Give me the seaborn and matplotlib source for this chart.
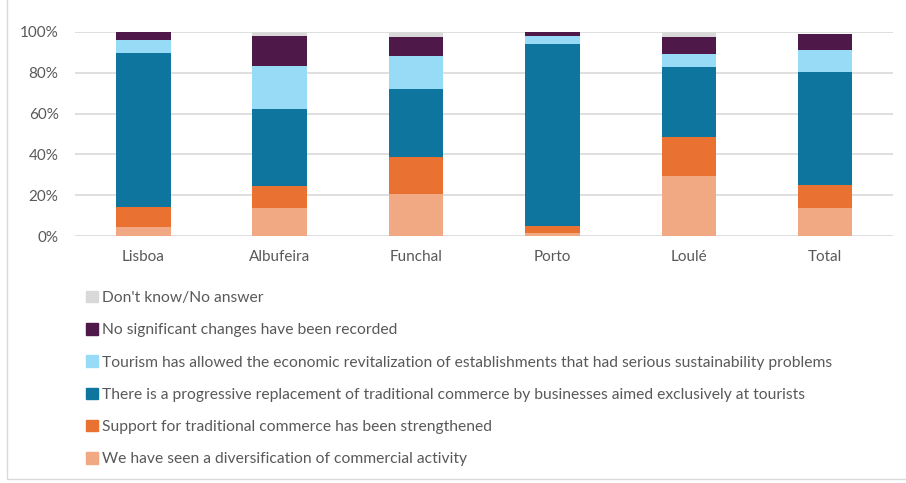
import matplotlib
matplotlib.use("Agg")
import matplotlib.pyplot as plt
import matplotlib.patches as mpatches
import numpy as np
import pandas as pd
import seaborn as sns

categories = ["Lisboa", "Albufeira", "Funchal", "Porto", "Loulé", "Total"]
series_names = [
    "We have seen a diversification of commercial activity",
    "Support for traditional commerce has been strengthened",
    "There is a progressive replacement of traditional commerce by businesses aimed exclusively at tourists",
    "Tourism has allowed the economic revitalization of establishments that had serious sustainability problems",
    "No significant changes have been recorded",
    "Don't know/No answer",
]
diversification = [4.4, 13.7, 20.8, 1.6, 29.4, 13.7]
support = [10.1, 10.8, 17.9, 3.6, 19.1, 11.3]
replacement = [75.2, 37.6, 33.4, 88.8, 34.2, 55.6]
revitalization = [6.4, 21.2, 16.1, 4.2, 6.4, 10.6]
no_changes = [3.6, 14.9, 9.5, 1.5, 8.4, 7.8]
dont_know = [0.3, 1.5, 2.0, 0.3, 2.2, 0.0]
yticks = [0, 20, 40, 60, 80, 100]
ytick_labels = ["0%", "20%", "40%", "60%", "80%", "100%"]

colors = ["#F1A983", "#E97132", "#0E759F", "#97DBF7", "#4E1848", "#D9D9D9"]
text_color = "#595959"

sns.set_theme(style="white")
plt.rcParams["font.family"] = ["Lato", "DejaVu Sans"]

series = [diversification, support, replacement, revitalization, no_changes, dont_know]
cum = np.cumsum(np.array(series), axis=0)

fig = plt.figure(figsize=(9.06, 4.83), dpi=100)
ax = fig.add_axes([0.083, 0.511, 0.903, 0.423])

# draw from top-most cumulative down so lower layers cover
for i in range(len(series) - 1, -1, -1):
    df = pd.DataFrame({"cat": categories, "val": cum[i]})
    sns.barplot(data=df, x="cat", y="val", color=colors[i], width=0.4,
                saturation=1, ax=ax, linewidth=0, zorder=3)

ax.set_ylim(0, 100)
ax.set_xlim(-0.5, 5.5)
ax.set_yticks(yticks)
ax.set_yticklabels(ytick_labels)
ax.set_xlabel("")
ax.set_ylabel("")
for s in ax.spines.values():
    s.set_visible(False)
ax.grid(axis="y", color="#D9D9D9", linewidth=1.2, zorder=0)
ax.set_axisbelow(True)
ax.tick_params(axis="both", length=0, labelsize=11, labelcolor=text_color)
ax.tick_params(axis="y", pad=12)
ax.tick_params(axis="x", pad=10)

handles = [mpatches.Patch(color=colors[i], label=series_names[i]) for i in range(5, -1, -1)]
leg = fig.legend(handles=handles, loc="upper left", bbox_to_anchor=(0.095, 0.398),
                 frameon=False, fontsize=11.25, labelcolor=text_color,
                 handlelength=0.75, handleheight=0.75, handletextpad=0.3,
                 labelspacing=1.16, borderaxespad=0, borderpad=0)

fig.patches.append(mpatches.Rectangle((0.008, 0.008), 1.2, 1.2, transform=fig.transFigure,
                                      fill=False, edgecolor="#D9D9D9", linewidth=1))

fig.savefig("out.png", dpi=100)
